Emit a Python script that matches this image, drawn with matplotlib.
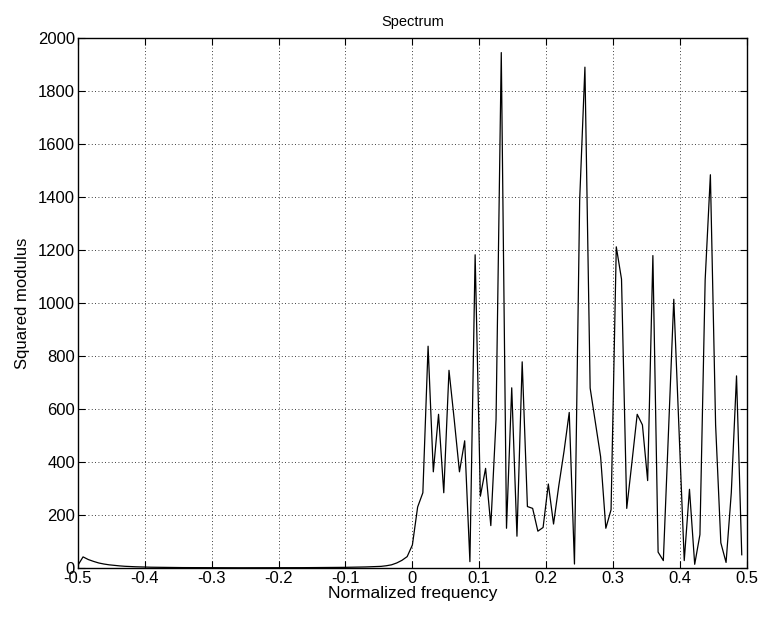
import numpy as np
import matplotlib
matplotlib.use("Agg")
import matplotlib.pyplot as plt

plt.rcParams['font.family'] = ['Liberation Sans', 'DejaVu Sans']

# Normalized frequency grid (128 bins, -0.5 .. 0.5-1/128)
n_bins = 128
freqs = np.arange(-n_bins // 2, n_bins // 2) / n_bins

# Squared modulus, negative frequencies (-0.5 .. -1/128)
neg_vals = [10, 42, 32, 25, 19, 15, 12, 10, 8, 6.5,
            5.5, 4.7, 4, 3.5, 3, 2.7, 2.4, 2.1, 1.9, 1.7,
            1.6, 1.5, 1.4, 1.3, 1.2, 1.1, 1.1, 1.0, 1.0, 1.0,
            0.9, 0.9, 0.9, 0.9, 0.9, 0.9, 1.0, 1.0, 1.0, 1.1,
            1.1, 1.2, 1.2, 1.3, 1.4, 1.5, 1.6, 1.7, 1.8, 2.0,
            2.2, 2.5, 2.8, 3.1, 3.5, 4.0, 4.6, 5.3, 6.2, 8.5,
            12, 19, 29, 43]

# Squared modulus, non-negative frequencies (0 .. 63/128)
pos_vals = [87, 230, 284, 837, 363, 580, 284, 746, 560, 363,
            480, 24, 1182, 271, 376, 160, 560, 1945, 150, 680,
            120, 778, 232, 225, 139, 153, 317, 166, 310, 440,
            587, 15, 1390, 1890, 679, 550, 420, 150, 220, 1212,
            1090, 225, 400, 580, 540, 330, 1179, 60, 28, 520,
            1014, 520, 28, 297, 14, 126, 1087, 1484, 540, 95,
            21, 284, 725, 50]

spectrum = np.array(neg_vals + pos_vals)

xticks = [-0.5, -0.4, -0.3, -0.2, -0.1, 0, 0.1, 0.2, 0.3, 0.4, 0.5]
xticklabels = ["-0.5", "-0.4", "-0.3", "-0.2", "-0.1", "0", "0.1", "0.2", "0.3", "0.4", "0.5"]
yticks = list(range(0, 2001, 200))

fig = plt.figure(figsize=(7.63, 6.17), dpi=100)
ax = fig.add_axes([0.102, 0.0794, 0.877, 0.859])

ax.plot(freqs, spectrum, color='black', linewidth=0.9)

ax.set_xlim(-0.5, 0.5)
ax.set_ylim(0, 2000)
ax.set_xticks(xticks)
ax.set_xticklabels(xticklabels)
ax.set_yticks(yticks)

ax.grid(True, color='black', linestyle=(0, (1, 3)), linewidth=0.6)
ax.tick_params(direction='in', top=True, right=True, length=5, width=0.8,
               labelsize=12, pad=2)
for s in ax.spines.values():
    s.set_linewidth(1.0)

ax.set_title("Spectrum", fontsize=10.5, pad=9)
ax.set_xlabel("Normalized frequency", fontsize=12.5, labelpad=0)
ax.set_ylabel("Squared modulus", fontsize=12, labelpad=6)

fig.savefig("out.png", dpi=100)
